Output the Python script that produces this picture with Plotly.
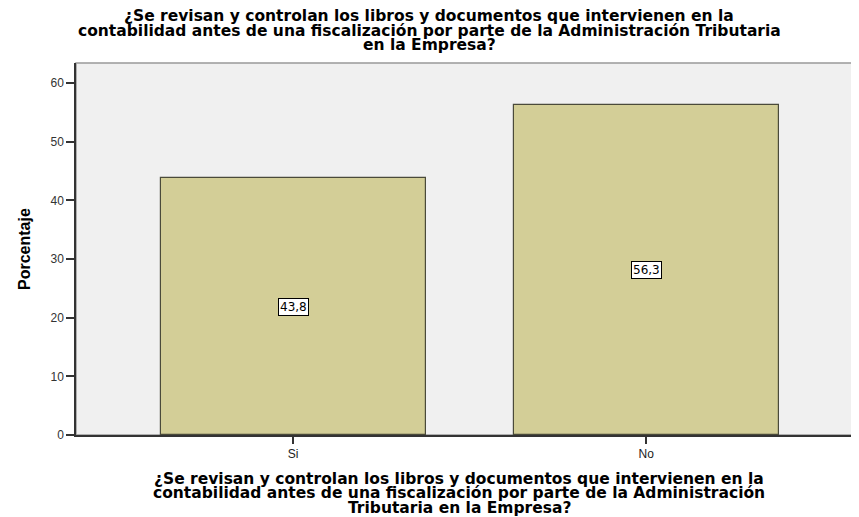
import plotly.graph_objects as go

# datos
categorias = ["Si", "No"]
porcentajes = [43.75, 56.25]
etiquetas = ["43,8", "56,3"]

titulo = ["¿Se revisan y controlan los libros y documentos que intervienen en la",
          "contabilidad antes de una fiscalización por parte de la Administración Tributaria",
          "en la Empresa?"]
titulo_x = ["¿Se revisan y controlan los libros y documentos que intervienen en la",
            "contabilidad antes de una fiscalización por parte de la Administración",
            "Tributaria en la Empresa?"]

fuente = "DejaVu Sans, Verdana, sans-serif"

fig = go.Figure()
fig.add_trace(go.Bar(
    x=[0, 1],
    y=porcentajes,
    width=0.75,
    marker=dict(color="#d3ce97", line=dict(color="#4a4a3a", width=1.2)),
    hoverinfo="skip",
))

# etiquetas de valor en el centro de cada barra
for i, (v, t) in enumerate(zip(porcentajes, etiquetas)):
    fig.add_annotation(
        x=i, y=v / 2, text=t, showarrow=False,
        font=dict(family=fuente, size=12, color="#000000"),
        bgcolor="#ffffff", bordercolor="#000000", borderwidth=1, borderpad=1,
    )

# título superior, una línea por anotación para un interlineado compacto
for k, linea in enumerate(titulo):
    fig.add_annotation(
        text=f"<b>{linea}</b>", xref="paper", yref="paper", x=0.452, y=1,
        yshift=47 - 14.5 * k, xanchor="center", yanchor="middle",
        showarrow=False, font=dict(family=fuente, size=15.5, color="#000000"),
    )

# título del eje x
for k, linea in enumerate(titulo_x):
    fig.add_annotation(
        text=f"<b>{linea}</b>", xref="paper", yref="paper", x=0.49, y=0,
        yshift=-43.5 - 14.5 * k, xanchor="center", yanchor="middle",
        showarrow=False, font=dict(family=fuente, size=15.5, color="#000000"),
    )

# título del eje y
fig.add_annotation(
    text="<b>Porcentaje</b>", xref="paper", yref="paper", x=0, y=0.5,
    xshift=-52, textangle=-90, xanchor="center", yanchor="middle",
    showarrow=False,
    font=dict(family="Liberation Sans, Arial", size=16, color="#000000"),
)

# el navegador deja 8 px de margen, así que la figura ocupa 851x509
fig.update_layout(
    width=851, height=509,
    margin=dict(l=68, r=1, t=55, b=82, autoexpand=False),
    paper_bgcolor="#ffffff",
    plot_bgcolor="#f0f0f0",
    showlegend=False,
    bargap=0,
)
fig.update_xaxes(
    range=[-0.615, 1.6], automargin=False,
    tickvals=[0, 1], ticktext=categorias,
    ticks="outside", ticklen=7, tickcolor="#333333", tickwidth=1.5,
    tickfont=dict(family="Liberation Sans, Arial", size=12, color="#222222"),
    showgrid=False, zeroline=False,
    showline=True, linecolor="#333333", linewidth=1.5, mirror=False,
)
fig.update_yaxes(
    range=[0, 63.4], automargin=False,
    tickvals=[0, 10, 20, 30, 40, 50, 60],
    ticks="outside", ticklen=8, tickcolor="#333333", tickwidth=1.5,
    tickfont=dict(family="Liberation Sans, Arial", size=12, color="#333333"),
    showgrid=False, zeroline=False,
    showline=True, linecolor="#333333", linewidth=1.5,
)
# borde superior y derecho del área de gráfico
fig.add_shape(type="rect", xref="paper", yref="paper", x0=0, y0=0, x1=1, y1=1,
              line=dict(color="#999999", width=1.5), layer="below")

fig.write_html("out.html")
